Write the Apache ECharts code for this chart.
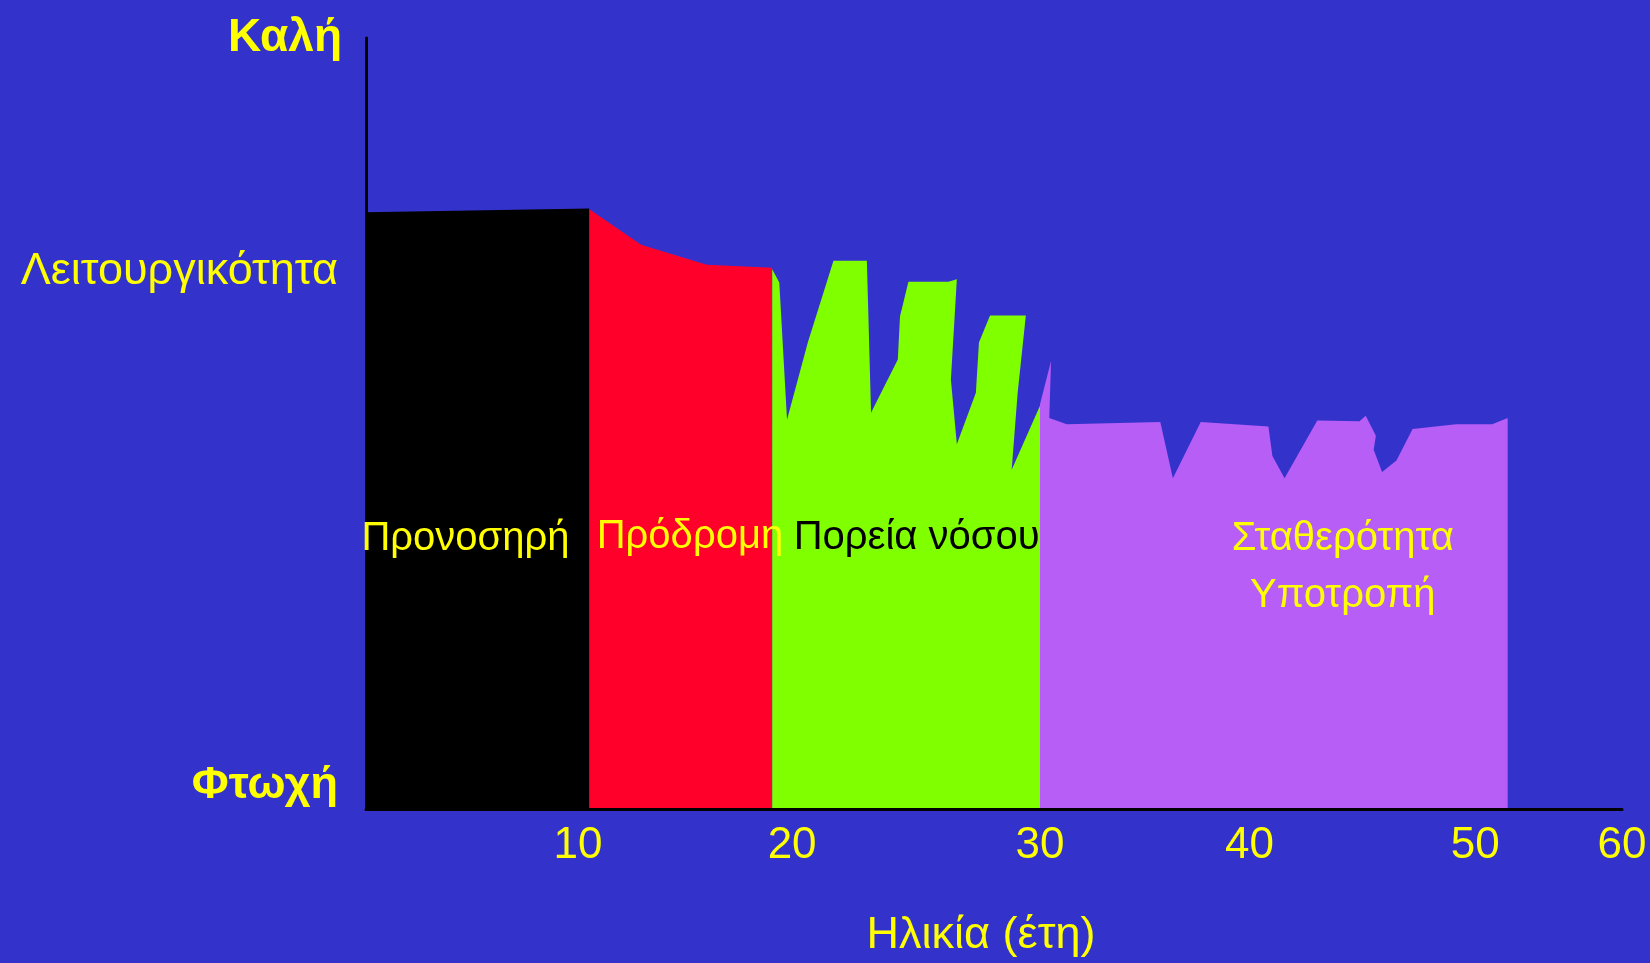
<!DOCTYPE html>
<html>
<head>
<meta charset="utf-8">
<script src="https://cdn.jsdelivr.net/npm/echarts@6/dist/echarts.min.js"></script>
<style>
  html, body { margin: 0; padding: 0; background: #3333CC; }
  #chart { width: 1650px; height: 963px; }
</style>
</head>
<body>
<div id="chart"></div>
<script>
// ---- data (age in years, functioning level 0..100) ----
const preIllness = [[0, 77.4], [10.1, 77.9]];
const prodrome = [[10.1, 77.8], [12.44, 73.2], [15.41, 70.6], [18.37, 70.2]];
const illnessCourse = [
  [18.37, 70.0], [18.69, 68.3], [19.04, 50.5], [19.98, 60.5], [21.14, 71.1], [22.65, 71.1],
  [22.72, 63.9], [22.84, 51.4], [24.05, 58.3], [24.15, 63.9], [24.53, 68.4], [26.34, 68.4],
  [26.72, 68.7], [26.45, 55.7], [26.72, 47.3], [27.58, 54.0], [27.72, 60.5], [28.22, 64.0],
  [29.84, 64.0], [29.47, 54.0], [29.20, 44.0], [30.48, 52.3]
];
const stabilityRelapse = [
  [30.48, 52.5], [30.98, 58.1], [30.90, 50.7], [31.69, 49.9], [35.92, 50.2], [36.49, 42.9],
  [37.75, 50.2], [40.81, 49.6], [40.99, 45.8], [41.54, 42.9], [43.02, 50.4], [44.93, 50.3],
  [45.21, 51.0], [45.67, 48.4], [45.57, 46.6], [45.95, 43.7], [46.60, 45.2], [47.33, 49.3],
  [49.30, 49.9], [50.93, 49.9], [51.63, 50.7]
];
const phaseNames = ['Προνοσηρή', 'Πρόδρομη', 'Πορεία νόσου', 'Σταθερότητα\nΥποτροπή'];
const phaseLabelAt = [[4.50, 35.0], [14.65, 35.3], [24.90, 35.2], [44.17, 31.35]];

// ---- tick labels ----
const xTickLabels = ['10', '20', '30', '40', '50', '60'];
const xTickAt = [9.59, 19.27, 30.48, 39.95, 50.16, 56.8];
const yLabels = ['Καλή', 'Λειτουργικότητα', 'Φτωχή'];
const yLabelAt = [100, 69.7, 3.1];
const xName = 'Ηλικία (έτη)';

const X_MAX = 56.8;
const FONT = "'Liberation Sans', Arial, sans-serif";
const NARROW = "'Liberation Sans Narrow', 'Liberation Sans', Arial, sans-serif";

const phaseColors = ['#000000', '#FF002B', '#80FF00', '#B65EF6'];
const phaseTextColors = ['#FFFF00', '#FFFF00', '#000000', '#FFFF00'];
const phaseData = [preIllness, prodrome, illnessCourse, stabilityRelapse];

const chart = echarts.init(document.getElementById('chart'), null, { renderer: 'canvas' });

const series = phaseData.map((d, i) => ({
  type: 'line',
  name: phaseNames[i],
  data: d,
  symbol: 'none',
  smooth: false,
  lineStyle: { width: 0 },
  areaStyle: { color: phaseColors[i], opacity: 1 },
  silent: true,
  z: 2
}));

phaseNames.forEach((name, i) => {
  series.push({
    type: 'scatter',
    data: [phaseLabelAt[i]],
    symbolSize: 0,
    silent: true,
    z: 10,
    itemStyle: { opacity: 1 },
    label: {
      show: true,
      position: 'inside',
      formatter: name,
      color: phaseTextColors[i],
      opacity: 1,
      fontFamily: FONT,
      fontSize: 40,
      lineHeight: 57,
      align: 'center',
      verticalAlign: 'middle'
    }
  });
});

chart.setOption({
  animation: false,
  backgroundColor: '#3333CC',
  grid: { left: 366, right: 28, top: 38, bottom: 153, containLabel: false },
  xAxis: {
    type: 'value',
    min: 0,
    max: X_MAX,
    z: 5,
    name: xName,
    nameLocation: 'middle',
    nameGap: 104,
    nameTextStyle: { color: '#FFFF00', fontFamily: FONT, fontSize: 45, padding: [0, 26, 0, 0] },
    axisLine: { show: true, lineStyle: { color: '#000000', width: 3 } },
    axisTick: { show: false },
    splitLine: { show: false },
    axisLabel: {
      customValues: xTickAt,
      formatter: v => {
        const i = xTickAt.findIndex(t => Math.abs(t - v) < 1e-6);
        return i >= 0 ? xTickLabels[i] : '';
      },
      color: '#FFFF00',
      fontFamily: NARROW,
      fontSize: 44,
      margin: 15,
      showMinLabel: true,
      showMaxLabel: true
    }
  },
  yAxis: {
    type: 'value',
    min: 0,
    max: 100,
    z: 5,
    axisLine: { show: true, onZero: false, lineStyle: { color: '#000000', width: 3 } },
    axisTick: { show: false },
    splitLine: { show: false },
    axisLabel: {
      customValues: yLabelAt,
      margin: 24,
      formatter: v => {
        const i = yLabelAt.findIndex(t => Math.abs(t - v) < 1e-6);
        if (i < 0) return '';
        if (i === 0) return '{good|' + yLabels[i] + '}';
        if (i === 1) return '{mid|' + yLabels[i] + '}';
        return '{poor|' + yLabels[i] + '}';
      },
      rich: {
        good: { color: '#FFFF00', fontFamily: FONT, fontSize: 46, fontWeight: 'bold' },
        mid: { color: '#FFFF00', fontFamily: FONT, fontSize: 45, padding: [0, 4, 0, 0] },
        poor: { color: '#FFFF00', fontFamily: FONT, fontSize: 45, fontWeight: 'bold', padding: [0, 4, 0, 0] }
      }
    }
  },
  series: series
});
</script>
</body>
</html>
